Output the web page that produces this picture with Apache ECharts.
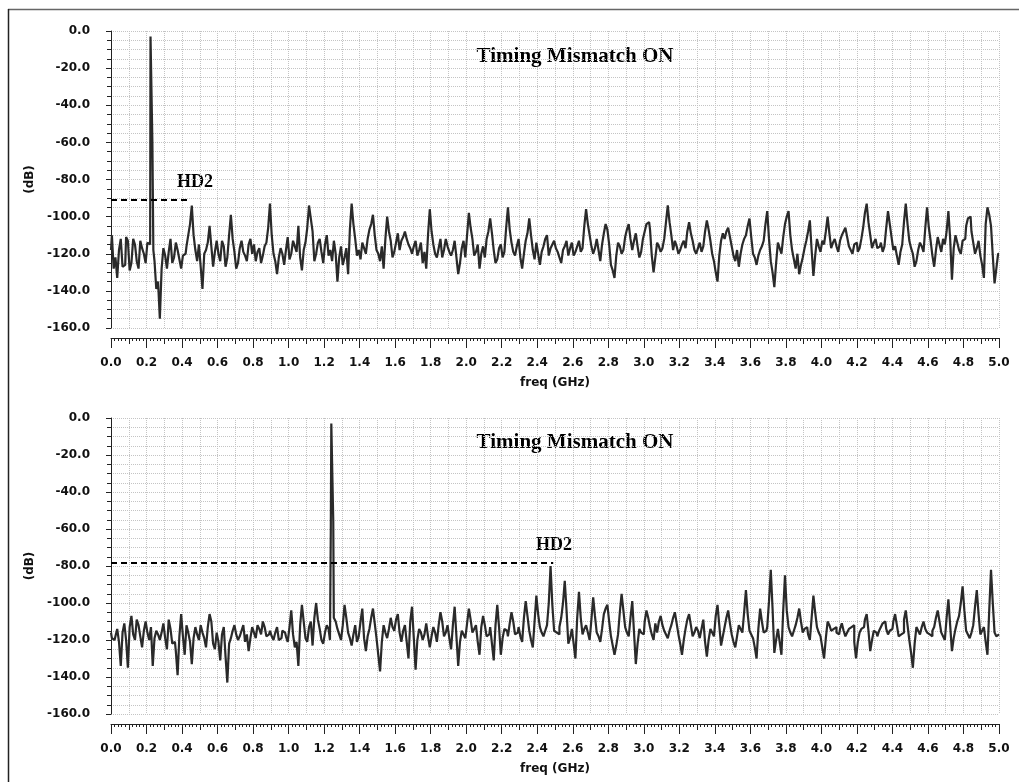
<!DOCTYPE html>
<html>
<head>
<meta charset="utf-8">
<title>Timing Mismatch spectrum</title>
<script src="https://cdn.jsdelivr.net/npm/echarts@6/dist/echarts.min.js"></script>
<style>
  html, body { margin: 0; padding: 0; background: #fff; }
  #chart { width: 1019px; height: 782px; }
</style>
</head>
<body>
<div id="chart"></div>
<script>
// spectrum bins: even bins at 0.00, 0.02 .. 5.00 GHz, odd bins at 0.01, 0.03 .. 4.99 GHz
var FREQ_STEP = 0.02;
var ODD_OFFSET = 0.01;
var xRange = [0, 5];

// upper plot, even bins (dB)
var topEven = [
  -118, -128, -133, -112, -126, -113, -125, -115, -128, -117,
  -125, -115, -118, -139, -155, -117, -128, -112, -122, -118,
  -128, -120, -110, -94, -118, -115, -139, -118, -105, -127,
  -113, -124, -116, -122, -99, -119, -125, -113, -121, -115,
  -120, -124, -117, -121, -114, -93, -120, -131, -117, -126,
  -111, -120, -116, -105, -129, -114, -94, -108, -120, -112,
  -125, -110, -118, -113, -135, -116, -122, -131, -93, -112,
  -118, -114, -120, -107, -99, -118, -124, -128, -100, -113,
  -119, -109, -113, -108, -115, -120, -113, -118, -125, -128,
  -96, -115, -122, -112, -118, -116, -121, -113, -131, -117,
  -122, -98, -112, -119, -128, -116, -112, -101, -118, -123,
  -115, -119, -95, -114, -121, -112, -128, -113, -101, -118,
  -114, -126, -116, -110, -117, -113, -119, -125, -116, -121,
  -114, -119, -113, -117, -96, -110, -120, -112, -124, -109,
  -107, -126, -133, -114, -120, -111, -104, -118, -109, -122,
  -112, -104, -107, -130, -114, -119, -112, -94, -110, -113,
  -120, -115, -117, -103, -113, -120, -114, -116, -102, -113,
  -124, -135, -113, -112, -106, -116, -124, -127, -115, -110,
  -101, -120, -126, -118, -113, -97, -124, -138, -114, -120,
  -104, -97, -118, -128, -131, -122, -113, -102, -132, -112,
  -119, -115, -100, -117, -112, -119, -110, -106, -116, -120,
  -114, -117, -106, -93, -110, -114, -117, -114, -116, -97,
  -111, -116, -126, -115, -93, -113, -120, -124, -114, -119,
  -95, -113, -127, -111, -119, -115, -97, -134, -110, -118,
  -113, -105, -100, -114, -117, -121, -133, -95, -105, -136,
  -120
];
// upper plot, odd bins (dB)
var topOdd = [
  -110, -122, -118, -127, -111, -129, -112, -124, -113, -120,
  -114, -118, -124, -135, -128, -121, -119, -125, -114, -123,
  -121, -116, -104, -110, -124, -127, -120, -114, -116, -119,
  -120, -113, -127, -110, -112, -128, -117, -119, -124, -112,
  -115, -119, -125, -116, -106, -110, -124, -122, -120, -118,
  -123, -113, -119, -122, -118, -106, -101, -124, -114, -119,
  -115, -121, -124, -120, -122, -126, -117, -107, -104, -121,
  -123, -117, -112, -104, -110, -120, -116, -112, -108, -122,
  -114, -118, -111, -112, -117, -116, -121, -114, -119, -110,
  -108, -120, -117, -122, -112, -119, -118, -122, -125, -113,
  -110, -106, -121, -115, -120, -122, -108, -109, -125, -117,
  -122, -106, -107, -119, -116, -122, -120, -109, -110, -123,
  -120, -119, -112, -121, -115, -117, -122, -118, -113, -117,
  -121, -116, -119, -105, -104, -116, -117, -118, -115, -104,
  -115, -129, -121, -116, -118, -107, -112, -113, -116, -119,
  -108, -103, -121, -122, -116, -117, -103, -103, -118, -116,
  -118, -113, -108, -109, -118, -117, -119, -108, -107, -120,
  -130, -121, -109, -108, -111, -121, -118, -120, -112, -105,
  -111, -122, -121, -116, -104, -112, -130, -125, -117, -111,
  -100, -110, -123, -120, -126, -117, -108, -118, -121, -116,
  -113, -108, -109, -114, -116, -113, -108, -111, -118, -115,
  -119, -112, -98, -103, -117, -112, -116, -119, -106, -104,
  -118, -121, -119, -103, -104, -117, -127, -118, -116, -106,
  -106, -121, -118, -115, -112, -108, -112, -117, -114, -120,
  -112, -101, -108, -120, -113, -126, -104, -99, -121, -128
];
// upper plot, fundamental tone
var topToneF = [0.221, 0.224, 0.232, 0.234, 0.237];
var topToneDb = [-112, -3, -3, -60, -60];

// lower plot, even bins (dB)
var botEven = [
  -116, -120, -114, -134, -111, -135, -107, -120, -112, -124,
  -110, -120, -134, -115, -120, -111, -125, -114, -121, -139,
  -106, -128, -116, -133, -113, -120, -116, -124, -106, -122,
  -116, -131, -113, -143, -119, -112, -120, -115, -121, -126,
  -113, -119, -114, -110, -118, -115, -120, -113, -119, -116,
  -121, -104, -124, -134, -101, -119, -113, -123, -100, -114,
  -122, -112, -118, -107, -114, -120, -101, -116, -123, -112,
  -118, -103, -126, -114, -103, -119, -137, -112, -119, -108,
  -115, -106, -121, -112, -130, -102, -136, -114, -120, -111,
  -124, -113, -121, -105, -118, -112, -125, -102, -134, -115,
  -119, -103, -116, -112, -128, -107, -118, -113, -131, -101,
  -128, -114, -118, -105, -117, -113, -121, -99, -115, -124,
  -96, -113, -118, -112, -80, -115, -117, -108, -88, -122,
  -114, -130, -94, -117, -112, -120, -97, -116, -121, -106,
  -101, -118, -128, -117, -95, -113, -118, -99, -133, -114,
  -117, -104, -113, -120, -116, -107, -115, -119, -112, -105,
  -117, -128, -114, -106, -118, -113, -119, -109, -129, -114,
  -118, -101, -123, -113, -104, -117, -124, -112, -116, -93,
  -115, -119, -130, -103, -116, -113, -82, -127, -114, -128,
  -85, -113, -118, -112, -103, -116, -113, -120, -96, -113,
  -118, -130, -110, -115, -113, -117, -111, -118, -114, -112,
  -130, -116, -113, -106, -126, -115, -118, -113, -110, -117,
  -114, -106, -118, -116, -104, -120, -135, -113, -117, -110,
  -116, -118, -113, -104, -116, -120, -98, -126, -114, -107,
  -91, -115, -119, -112, -93, -117, -113, -128, -82, -116,
  -117
];
// lower plot, odd bins (dB)
var botOdd = [
  -119, -118, -121, -116, -120, -113, -117, -109, -118, -115,
  -116, -113, -119, -117, -116, -119, -109, -122, -126, -118,
  -118, -112, -121, -119, -117, -112, -119, -113, -110, -125,
  -121, -117, -129, -122, -115, -117, -118, -112, -117, -119,
  -116, -112, -117, -113, -117, -118, -116, -120, -115, -118,
  -113, -117, -121, -112, -110, -121, -110, -108, -109, -120,
  -116, -114, -118, -110, -117, -112, -108, -119, -117, -121,
  -110, -119, -118, -108, -111, -128, -121, -116, -114, -113,
  -109, -116, -115, -121, -110, -119, -120, -116, -117, -118,
  -118, -116, -112, -110, -116, -119, -112, -118, -121, -117,
  -111, -109, -114, -121, -113, -112, -117, -122, -112, -113,
  -119, -115, -111, -110, -116, -118, -108, -107, -120, -110,
  -106, -116, -115, -100, -101, -116, -113, -100, -104, -119,
  -122, -108, -108, -114, -116, -109, -107, -118, -114, -103,
  -110, -123, -123, -105, -104, -116, -108, -116, -122, -116,
  -110, -108, -117, -111, -110, -112, -117, -115, -108, -111,
  -122, -120, -109, -112, -116, -115, -114, -121, -120, -116,
  -107, -112, -118, -108, -111, -121, -118, -114, -105, -106,
  -117, -124, -114, -110, -115, -99, -103, -120, -121, -104,
  -104, -116, -115, -108, -110, -114, -117, -108, -105, -116,
  -124, -119, -112, -114, -116, -114, -115, -116, -113, -121,
  -121, -114, -109, -115, -120, -116, -115, -111, -114, -115,
  -110, -112, -117, -109, -112, -127, -122, -115, -113, -114,
  -117, -115, -108, -110, -118, -108, -112, -119, -110, -100,
  -104, -117, -116, -102, -106, -115, -121, -104, -100, -118
];
// lower plot, fundamental tone
var botToneF = [1.236, 1.239, 1.242, 1.250, 1.253, 1.256];
var botToneDb = [-120, -62, -3, -3, -56, -108];

// HD2 reference lines: level (dB) and end frequency (GHz) for each plot
var hd2Level = [-91, -78];
var hd2End = [0.45, 2.49];

var titles = ["Timing Mismatch ON", "Timing Mismatch ON"];

function buildSeries(even, odd, toneF, toneDb) {
  var lo = Math.min.apply(null, toneF), hi = Math.max.apply(null, toneF);
  var pts = [];
  even.forEach(function (v, i) { pts.push([+(i * FREQ_STEP).toFixed(3), v]); });
  odd.forEach(function (v, i) { pts.push([+(ODD_OFFSET + i * FREQ_STEP).toFixed(3), v]); });
  pts = pts.filter(function (p) { return p[0] < lo || p[0] > hi; });
  toneF.forEach(function (f, i) { pts.push([f, toneDb[i]]); });
  pts.sort(function (a, b) { return a[0] - b[0]; });
  return pts;
}

var myChart = echarts.init(document.getElementById("chart"));

var grids = [
  { left: 111, right: 20, top: 31, height: 297 },
  { left: 111, right: 20, top: 418, height: 296 }
];
var labelFont = { color: "#111", fontWeight: "bold", fontSize: 12, fontFamily: "DejaVu Sans" };
var axisCol = "#222";
var gridCol = "#c4c4c4";

var xAxes = [], yAxes = [];
grids.forEach(function (g, i) {
  // labelled axis, major ticks every 0.2
  xAxes.push({
    gridIndex: i, type: "value", min: xRange[0], max: xRange[1], interval: 0.2,
    position: "bottom", offset: 10,
    axisLine: { show: true, onZero: false, lineStyle: { color: axisCol, width: 1 } },
    axisTick: { show: true, length: 10, lineStyle: { color: axisCol } },
    minorTick: { show: true, splitNumber: 10, length: 3, lineStyle: { color: axisCol } },
    axisLabel: Object.assign({ margin: 19, formatter: function (v) { return v.toFixed(1); } }, labelFont),
    splitLine: { show: false },
    name: "freq (GHz)", nameLocation: "middle", nameGap: 39,
    nameTextStyle: { color: "#111", fontWeight: "bold", fontSize: 12, fontFamily: "DejaVu Sans" }
  });
  // helper axis: 0.1 grid lines + medium ticks
  xAxes.push({
    gridIndex: i, type: "value", min: xRange[0], max: xRange[1], interval: 0.1,
    position: "top", offset: -(g.height + 10),
    axisLine: { show: false },
    axisTick: { show: true, inside: true, length: 6, lineStyle: { color: axisCol } },
    axisLabel: { show: false },
    splitLine: { show: true, lineStyle: { type: "dotted", color: gridCol, width: 1 } }
  });
  yAxes.push({
    gridIndex: i, type: "value", min: -160, max: 0, interval: 20,
    position: "left", offset: 12,
    axisLine: { show: true, lineStyle: { color: axisCol, width: 1 } },
    axisTick: { show: true, length: 5, lineStyle: { color: axisCol } },
    minorTick: { show: true, splitNumber: 4, length: 4, lineStyle: { color: axisCol } },
    axisLabel: Object.assign({ margin: 9, formatter: function (v) { return v.toFixed(1); } }, labelFont),
    splitLine: { show: true, lineStyle: { type: "dotted", color: gridCol, width: 1 } },
    minorSplitLine: { show: true, lineStyle: { type: "dotted", color: gridCol, width: 1 } },
    name: "(dB)", nameLocation: "middle", nameGap: 60, nameRotate: 90,
    nameTextStyle: { color: "#111", fontWeight: "bold", fontSize: 12, fontFamily: "DejaVu Sans" }
  });
});

var seriesData = [
  buildSeries(topEven, topOdd, topToneF, topToneDb),
  buildSeries(botEven, botOdd, botToneF, botToneDb)
];

var series = seriesData.map(function (d, i) {
  return {
    type: "line", xAxisIndex: i * 2, yAxisIndex: i,
    data: d, symbol: "none", showSymbol: false, step: "middle",
    lineStyle: { color: "#2a2a2a", width: 2.2 },
    z: 3,
    markLine: {
      symbol: "none", silent: true, animation: false,
      label: { show: false },
      lineStyle: { type: [6, 4], color: "#000", width: 2 },
      data: [[{ coord: [0, hd2Level[i]] }, { coord: [hd2End[i], hd2Level[i]] }]]
    }
  };
});

var serif = "'Liberation Serif', 'DejaVu Serif', serif";
myChart.setOption({
  animation: false,
  backgroundColor: "#fff",
  grid: grids,
  xAxis: xAxes,
  yAxis: yAxes,
  series: series,
  graphic: [
    { type: "line", shape: { x1: 8, y1: 9.5, x2: 1019, y2: 9.5 }, style: { stroke: "#666", lineWidth: 1.5 } },
    { type: "line", shape: { x1: 8.5, y1: 9, x2: 8.5, y2: 782 }, style: { stroke: "#222", lineWidth: 1.5 } },
    { type: "text", x: 575, y: 57, style: { text: titles[0], font: "bold 21px " + serif, fill: "#000", align: "center", verticalAlign: "middle" } },
    { type: "text", x: 575, y: 443, style: { text: titles[1], font: "bold 21px " + serif, fill: "#000", align: "center", verticalAlign: "middle" } },
    { type: "text", x: 195, y: 182, style: { text: "HD2", font: "bold 18px " + serif, fill: "#000", align: "center", verticalAlign: "middle" } },
    { type: "text", x: 554, y: 545, style: { text: "HD2", font: "bold 18px " + serif, fill: "#000", align: "center", verticalAlign: "middle" } }
  ]
});
</script>
</body>
</html>
